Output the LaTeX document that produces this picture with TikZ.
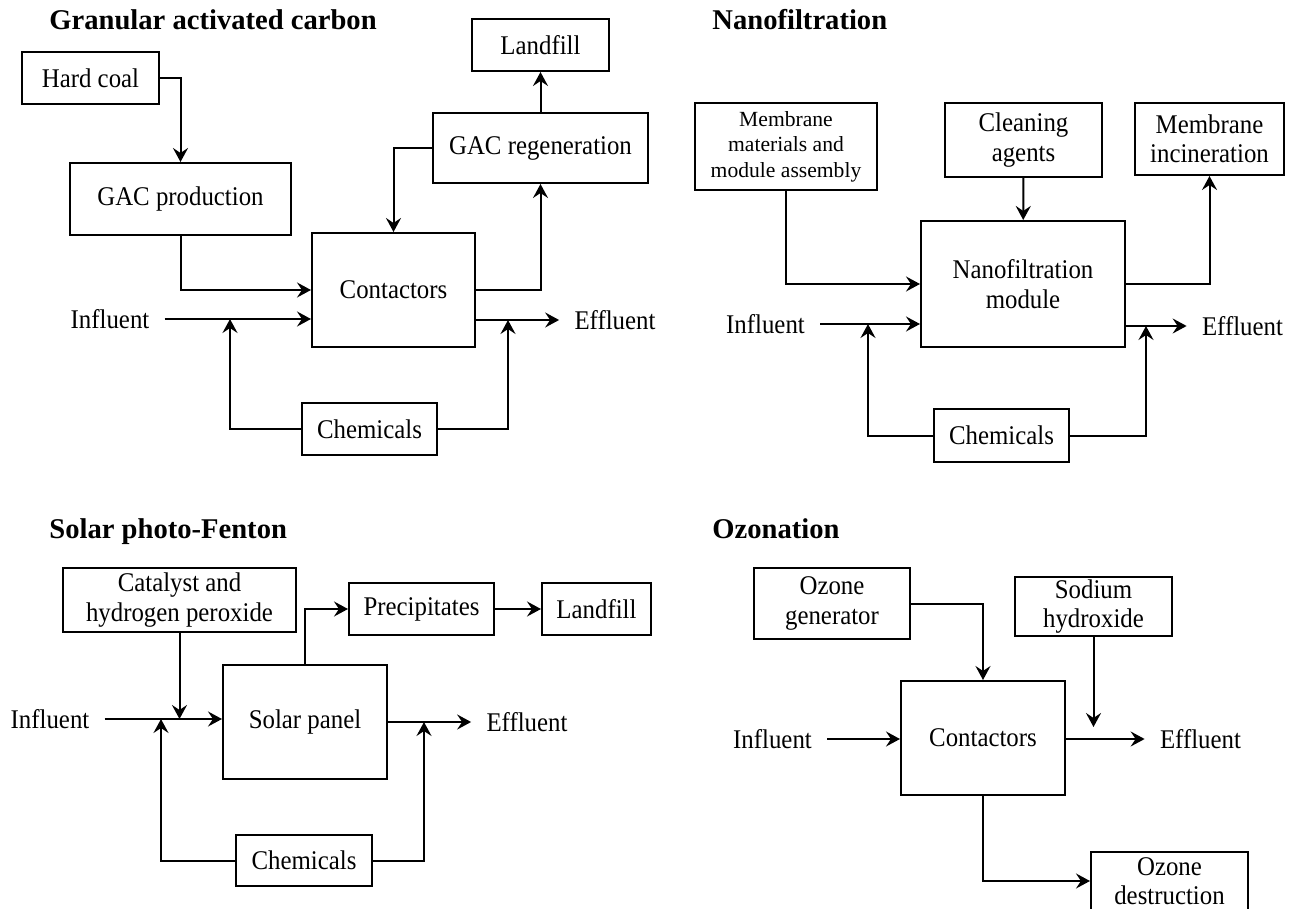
\documentclass[tikz,border=0pt]{standalone}
\usepackage{fontspec}
\setmainfont{Liberation Serif}
\newfontfamily\bodyfont[FakeStretch=0.92]{Liberation Serif}
\usetikzlibrary{arrows.meta}

\begin{document}
\begin{tikzpicture}[x=0.5pt,y=-0.5pt,
    box/.style={draw,line width=1pt,inner sep=0pt,align=center,font=\bodyfont\fontsize{13.5}{14.75}\selectfont},
    smallbox/.style={box,font=\fontsize{10.8}{12.8}\selectfont},
    lbl/.style={inner sep=7.5pt,font=\bodyfont\fontsize{13.5}{14.75}\selectfont},
    ttl/.style={anchor=base west,inner sep=0pt,font=\fontsize{14.3}{17}\selectfont\bfseries},
    flow/.style={draw,line width=1pt,-{Stealth[length=7pt,width=7.5pt,inset=2.5pt]}}]
    \useasboundingbox (0,0) rectangle (1291,909);
    % granular activated carbon
    \path (49,30) node(t1)[ttl] {Granular activated carbon};
    \path (90.5,78) node(hc)[box,minimum width=68.5pt,minimum height=26pt] {Hard coal};
    \path (180.5,199) node(gp)[box,minimum width=110.5pt,minimum height=36pt] {GAC production};
    \path (393.5,290) node(c1)[box,minimum width=81.5pt,minimum height=57pt] {Contactors};
    \path (540.5,45) node(lf1)[box,minimum width=68.5pt,minimum height=26pt] {Landfill};
    \path (540.5,148) node(gr)[box,minimum width=107.5pt,minimum height=35pt] {GAC regeneration};
    \path (369.5,429) node(ch1)[box,minimum width=67.5pt,minimum height=26pt] {Chemicals};
    \path (110,319) node(in1)[lbl] {Influent};
    \path (615,320) node(ef1)[lbl] {Effluent};
    \coordinate (j1a) at (230,319);
    \coordinate (j1b) at (508,320);
    \path (hc) [flow] -| (gp);
    \path (gp) [flow] |- (c1);
    \path (in1) edge[flow] (in1 -| c1.west);
    \path (c1.east |- ef1) edge[flow] (ef1);
    \path (ch1) [flow] -| (j1a);
    \path (ch1) [flow] -| (j1b);
    \path (c1) [flow] -| (gr);
    \path (gr) edge[flow] (lf1);
    \path (gr) [flow] -| (c1);
    % nanofiltration
    \path (712,30) node(t2)[ttl] {Nanofiltration};
    \path (786,146.5) node(mm)[smallbox,minimum width=91pt,minimum height=43.5pt] {Membrane\\materials and\\module assembly};
    \path (1023.5,140) node(ca)[box,minimum width=78.5pt,minimum height=37pt] {Cleaning\\agents};
    \path (1209.5,139) node(mi)[box,minimum width=74.5pt,minimum height=36pt] {Membrane\\incineration};
    \path (1023,284) node(nf)[box,minimum width=102pt,minimum height=63pt] {Nanofiltration\\module};
    \path (1001.5,435.5) node(ch2)[box,minimum width=67.5pt,minimum height=26.5pt] {Chemicals};
    \path (765.5,324) node(in2)[lbl] {Influent};
    \path (1242.5,326) node(ef2)[lbl] {Effluent};
    \coordinate (j2a) at (868,324);
    \coordinate (j2b) at (1146,326);
    \path (mm) [flow] |- (nf);
    \path (ca) edge[flow] (nf);
    \path (nf) [flow] -| (mi);
    \path (in2) edge[flow] (in2 -| nf.west);
    \path (nf.east |- ef2) edge[flow] (ef2);
    \path (ch2) [flow] -| (j2a);
    \path (ch2) [flow] -| (j2b);
    % solar photo-fenton
    \path (49,538) node(t3)[ttl] {Solar photo-Fenton};
    \path (179.5,600) node(cat)[box,minimum width=116.5pt,minimum height=32pt] {Catalyst and\\hydrogen peroxide};
    \path (421.5,609) node(pr)[box,minimum width=72.5pt,minimum height=26pt] {Precipitates};
    \path (596.5,609) node(lf3)[box,minimum width=54.5pt,minimum height=26pt] {Landfill};
    \path (305,722) node(sp)[box,minimum width=82pt,minimum height=57pt] {Solar panel};
    \path (304,860.5) node(ch3)[box,minimum width=68pt,minimum height=25.5pt] {Chemicals};
    \path (50,719) node(in3)[lbl] {Influent};
    \path (527,722) node(ef3)[lbl] {Effluent};
    \coordinate (j3a) at (161,719);
    \coordinate (j3b) at (424,722);
    \path (in3) edge[flow] (in3 -| sp.west);
    \path (cat) edge[flow] (cat |- in3);
    \path (ch3) [flow] -| (j3a);
    \path (sp) [flow] |- (pr);
    \path (pr) edge[flow] (lf3);
    \path (sp.east |- ef3) edge[flow] (ef3);
    \path (ch3) [flow] -| (j3b);
    % ozonation
    \path (712,538) node(t4)[ttl] {Ozonation};
    \path (832,603.5) node(og)[box,minimum width=78pt,minimum height=35.5pt] {Ozone\\generator};
    \path (1093.5,606.5) node(sh)[box,minimum width=78.5pt,minimum height=29.5pt] {Sodium\\hydroxide};
    \path (983,738) node(c4)[box,minimum width=82pt,minimum height=57pt] {Contactors};
    \path (1169.5,881) node(od)[box,minimum width=78.5pt,minimum height=29pt] {Ozone\\destruction};
    \path (772.5,739) node(in4)[lbl] {Influent};
    \path (1200.5,739) node(ef4)[lbl] {Effluent};
    \coordinate (j4) at (1093.5,727);
    \path (og) [flow] -| (c4);
    \path (sh) edge[flow] (j4);
    \path (in4) edge[flow] (in4 -| c4.west);
    \path (c4.east |- ef4) edge[flow] (ef4);
    \path (c4) [flow] |- (od);
\end{tikzpicture}
\end{document}
